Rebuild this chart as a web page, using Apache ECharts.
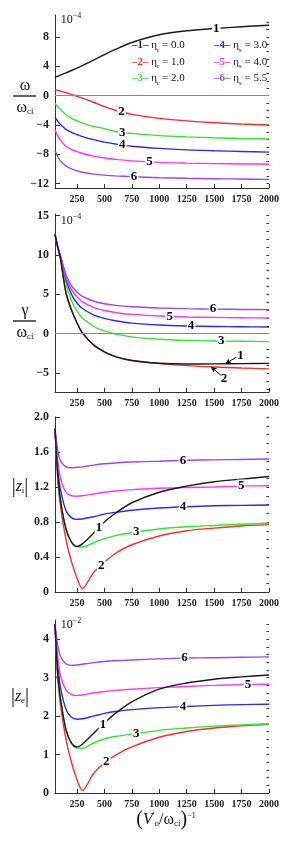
<!DOCTYPE html>
<html><head><meta charset="utf-8">
<script src="https://cdn.jsdelivr.net/npm/echarts@6/dist/echarts.min.js"></script>
<style>html,body{margin:0;padding:0;background:#fff}#c{width:291px;height:842px}</style>
</head><body><div id="c"></div>
<script>
// ---------- data ----------
const xs = [50, 75, 100, 150, 200, 250, 300, 400, 500, 600, 750, 1000, 1250, 1500, 1750, 2000];
const xTicks = [250, 500, 750, 1000, 1250, 1500, 1750, 2000];

const omega1 = [2.5, 2.65, 2.8, 3.1, 3.43, 3.76, 4.1, 4.85, 5.6, 6.3, 7.25, 8.3, 8.85, 9.15, 9.4, 9.6];
const omega2 = [0.78, 0.72, 0.62, 0.4, 0.15, -0.1, -0.35, -0.9, -1.5, -2.0, -2.55, -3.1, -3.45, -3.7, -3.87, -4.0];
const omega3 = [-1.05, -1.5, -1.9, -2.6, -3.1, -3.45, -3.75, -4.2, -4.5, -4.9, -5.15, -5.45, -5.62, -5.75, -5.85, -5.92];
const omega4 = [-2.9, -3.5, -3.95, -4.6, -5.0, -5.3, -5.6, -6.0, -6.35, -6.6, -6.9, -7.2, -7.4, -7.52, -7.62, -7.7];
const omega5 = [-4.7, -5.5, -6.1, -6.9, -7.35, -7.65, -7.9, -8.25, -8.5, -8.7, -8.9, -9.1, -9.2, -9.27, -9.32, -9.35];
const omega6 = [-7.5, -8.3, -8.9, -9.6, -10.0, -10.25, -10.45, -10.7, -10.85, -10.95, -11.05, -11.2, -11.28, -11.33, -11.38, -11.42];

const gamma1 = [12.6, 11.0, 9.5, 5.2, 3.0, 1.4, 0.1, -1.4, -2.3, -2.9, -3.4, -3.75, -3.85, -3.83, -3.8, -3.77];
const gamma2 = [12.6, 11.0, 9.5, 5.2, 3.0, 1.4, 0.1, -1.4, -2.3, -2.9, -3.4, -3.8, -4.05, -4.22, -4.36, -4.46];
const gamma3 = [12.6, 11.0, 9.7, 6.4, 4.2, 2.9, 2.0, 0.95, 0.35, -0.05, -0.4, -0.7, -0.85, -0.92, -0.96, -1.0];
const gamma4 = [12.6, 11.0, 9.8, 6.9, 5.0, 3.9, 3.2, 2.4, 1.95, 1.65, 1.35, 1.1, 0.98, 0.92, 0.88, 0.85];
const gamma5 = [12.6, 11.0, 9.85, 7.2, 5.6, 4.7, 4.05, 3.35, 2.95, 2.7, 2.45, 2.25, 2.13, 2.07, 2.03, 2.0];
const gamma6 = [12.6, 11.05, 9.9, 7.5, 6.1, 5.3, 4.75, 4.15, 3.8, 3.6, 3.42, 3.27, 3.18, 3.12, 3.08, 3.06];

const zi1 = [1.87, 1.35, 1.05, 0.72, 0.57, 0.52, 0.55, 0.67, 0.8, 0.9, 1.02, 1.14, 1.21, 1.26, 1.29, 1.32];
const zi2 = [1.87, 1.3, 0.98, 0.6, 0.35, 0.16, 0.04, 0.22, 0.34, 0.44, 0.54, 0.64, 0.7, 0.73, 0.755, 0.77];
const zi3 = [1.87, 1.35, 1.05, 0.72, 0.57, 0.52, 0.515, 0.56, 0.61, 0.645, 0.68, 0.72, 0.745, 0.76, 0.775, 0.785];
const zi4 = [1.87, 1.42, 1.17, 0.93, 0.85, 0.83, 0.835, 0.86, 0.89, 0.91, 0.935, 0.96, 0.975, 0.985, 0.99, 0.995];
const zi5 = [1.87, 1.5, 1.3, 1.14, 1.1, 1.095, 1.1, 1.12, 1.14, 1.155, 1.17, 1.185, 1.195, 1.2, 1.21, 1.215];
const zi6 = [1.87, 1.62, 1.5, 1.43, 1.42, 1.425, 1.43, 1.45, 1.465, 1.475, 1.485, 1.495, 1.505, 1.51, 1.515, 1.52];

const ze1 = [4.39, 3.1, 2.45, 1.65, 1.3, 1.2, 1.27, 1.55, 1.82, 2.07, 2.37, 2.7, 2.86, 2.96, 3.02, 3.07];
const ze2 = [4.39, 3.0, 2.3, 1.4, 0.8, 0.35, 0.07, 0.5, 0.78, 0.98, 1.2, 1.45, 1.6, 1.69, 1.75, 1.79];
const ze3 = [4.39, 3.1, 2.45, 1.65, 1.3, 1.17, 1.16, 1.3, 1.41, 1.47, 1.53, 1.63, 1.69, 1.74, 1.77, 1.8];
const ze4 = [4.39, 3.35, 2.75, 2.18, 1.97, 1.92, 1.93, 2.0, 2.07, 2.12, 2.17, 2.22, 2.25, 2.28, 2.3, 2.31];
const ze5 = [4.39, 3.55, 3.05, 2.68, 2.56, 2.54, 2.55, 2.6, 2.64, 2.67, 2.7, 2.74, 2.77, 2.8, 2.82, 2.83];
const ze6 = [4.39, 3.85, 3.55, 3.36, 3.32, 3.33, 3.35, 3.39, 3.42, 3.44, 3.46, 3.49, 3.51, 3.52, 3.53, 3.54];

const omegaTicks = [-12, -8, -4, 0, 4, 8];
const gammaTicks = [-5, 0, 5, 10, 15];
const ziTicks = [0, 0.4, 0.8, 1.2, 1.6, 2.0];
const zeTicks = [0, 1, 2, 3, 4];

const curveNames = ['1', '2', '3', '4', '5', '6'];
const etaSubs = ['r', 'r', 'r', 's', 's', 's'];
const etaVals = ['0.0', '1.0', '2.0', '3.0', '4.0', '5.5'];

// ---------- build ----------
const FONT = 'Liberation Serif';
const colors = ['#1a1a1a', '#ff2a2a', '#2ee82e', '#2a2aff', '#ff33ff', '#9944ff'];
const legendNames = curveNames.map((c, i) => 'η' + etaSubs[i] + ' = ' + etaVals[i]);

function interp(ys, x) {
  for (let k = 0; k < xs.length - 1; k++) {
    if (x >= xs[k] && x <= xs[k + 1]) {
      const t = (x - xs[k]) / (xs[k + 1] - xs[k]);
      return ys[k] + t * (ys[k + 1] - ys[k]);
    }
  }
  return ys[ys.length - 1];
}
function range(a, b, s) { const r = []; for (let v = a; v <= b + 1e-9; v += s) r.push(+v.toFixed(4)); return r; }

const panels = [
  { top: 15, height: 173, min: -12.6, max: 11, ticks: omegaTicks, minor: range(-12, 10, 1), data: [omega1, omega2, omega3, omega4, omega5, omega6], labelX: [1520, 655, 663, 663, 912, 770], zero: true, dec: 0 },
  { top: 214, height: 178, min: -7.4, max: 15.2, ticks: gammaTicks, minor: range(-7, 15, 1), data: [gamma1, gamma2, gamma3, gamma4, gamma5, gamma6], labelX: [null, null, 1565, 1290, 1095, 1490], zero: true, dec: 0 },
  { top: 417, height: 175, min: 0, max: 2.0, ticks: ziTicks, minor: range(0, 2, 0.1), data: [zi1, zi2, zi3, zi4, zi5, zi6], labelX: [450, 472, 790, 1216, 1748, 1216], zero: false, dec: 1 },
  { top: 620, height: 173, min: 0, max: 4.5, ticks: zeTicks, minor: range(0, 4.4, 0.2), data: [ze1, ze2, ze3, ze4, ze5, ze6], labelX: [487, 517, 790, 1216, 1808, 1231], zero: false, dec: 0 }
];

const grid = [], xAxis = [], yAxis = [], series = [];
const labelStyle = { show: true, color: '#000', fontFamily: FONT, fontSize: 13, fontWeight: 'bold', backgroundColor: '#fff', padding: [0, 1], position: 'inside' };

panels.forEach((p, pi) => {
  grid.push({ left: 55, width: 214, top: p.top, height: p.height });
  xAxis.push({
    type: 'value', gridIndex: pi, min: 50, max: 2000,
    axisLine: { onZero: false, lineStyle: { color: '#333', width: 1 } },
    axisTick: { inside: true, length: 4, customValues: xTicks, lineStyle: { color: '#333' } },
    axisLabel: { customValues: xTicks, fontFamily: FONT, fontSize: 10, color: '#222', margin: 6, fontWeight: 'bold', formatter: v => String(v) },
    splitLine: { show: false }
  });
  yAxis.push({
    type: 'value', gridIndex: pi, min: p.min, max: p.max,
    axisLine: { show: true, onZero: false, lineStyle: { color: '#333', width: 1 } },
    axisTick: { inside: true, length: 5, customValues: p.ticks, lineStyle: { color: '#333' } },
    axisLabel: { customValues: p.ticks, fontFamily: FONT, fontSize: 12, fontWeight: 'bold', color: '#222', margin: 6,
      formatter: v => v === 0 ? '0' : (v < 0 ? '−' : '') + Math.abs(v).toFixed(p.dec) },
    splitLine: { show: false }
  });
  yAxis.push({
    type: 'value', gridIndex: pi, min: p.min, max: p.max,
    axisLine: { show: false, onZero: false },
    axisTick: { inside: true, length: 2.5, customValues: p.minor, lineStyle: { color: '#333' } },
    axisLabel: { show: false }, splitLine: { show: false }
  });
  if (p.zero) {
    series.push({ type: 'line', xAxisIndex: pi, yAxisIndex: pi * 2, data: [], silent: true, animation: false, z: 1,
      markLine: { silent: true, animation: false, symbol: 'none', label: { show: false },
        lineStyle: { color: '#888', width: 1, type: 'solid' }, data: [{ yAxis: 0 }] } });
  }
  p.data.forEach((ys, i) => {
    const s = {
      type: 'line', name: legendNames[i], xAxisIndex: pi, yAxisIndex: pi * 2,
      data: xs.map((x, k) => [x, ys[k]]),
      smooth: 0.3, showSymbol: false, symbol: 'none',
      lineStyle: { color: colors[i], width: 1.4 }, itemStyle: { color: colors[i] },
      z: i === 0 ? 4 : 3, animation: false, silent: true
    };
    if (p.labelX[i] != null) {
      s.markPoint = { symbol: 'circle', symbolSize: 0, z: 10, animation: false, silent: true,
        itemStyle: { color: 'rgba(0,0,0,0)' },
        data: [{ coord: [p.labelX[i], interp(ys, p.labelX[i])], label: Object.assign({}, labelStyle, { formatter: curveNames[i] }) }] };
    }
    if (pi === 1 && (i === 0 || i === 1)) {
      const from = i === 0 ? [1600, interp(ys, 1600)] : [1470, interp(ys, 1470)];
      const to = i === 0 ? [1700, -3.0] : [1560, -5.25];
      const lab = i === 0 ? [1740, -2.75] : [1590, -5.75];
      s.markLine = { silent: true, animation: false, symbol: ['arrow', 'none'], symbolSize: [4, 6],
        lineStyle: { color: '#000', width: 1, type: 'solid' }, label: { show: false },
        data: [[{ coord: from }, { coord: to }]] };
      s.markPoint = { symbol: 'circle', symbolSize: 0, z: 10, animation: false, silent: true,
        itemStyle: { color: 'rgba(0,0,0,0)' },
        data: [{ coord: lab, label: Object.assign({}, labelStyle, { formatter: curveNames[i], backgroundColor: 'transparent' }) }] };
    }
    series.push(s);
  });
});

const rich = { t: { fontFamily: FONT, fontSize: 11, color: '#111', lineHeight: 16 }, s: { fontFamily: FONT, fontSize: 7, color: '#111', lineHeight: 16, verticalAlign: 'bottom', padding: [6, 0, 0, 0] } };
colors.forEach((c, i) => { rich['c' + i] = { fontFamily: FONT, fontSize: 11, fontWeight: 'bold', color: c, lineHeight: 16 }; });
const legendFmt = name => { const i = legendNames.indexOf(name); return '{c' + i + '|–' + curveNames[i] + '–}{t| η}{s|' + etaSubs[i] + '}{t| = ' + etaVals[i] + '}'; };
const legendBase = { orient: 'vertical', icon: 'none', itemWidth: 0, itemHeight: 10, itemGap: 3, padding: 0, selectedMode: false, formatter: legendFmt, textStyle: { rich } };

const T = (x, y, text, richDef) => ({ type: 'text', x, y, silent: true, style: { text, rich: richDef, align: 'center', verticalAlign: 'middle', fill: '#111' } });
const sym = { a: { fontFamily: FONT, fontSize: 16, fill: '#111' }, b: { fontFamily: FONT, fontSize: 9, fill: '#111', padding: [7, 0, 0, 0] }, i: { fontFamily: FONT, fontSize: 16, fontStyle: 'italic', fill: '#111' }, bar: { fontFamily: FONT, fontSize: 20, fill: '#111' }, sup: { fontFamily: FONT, fontSize: 8, fill: '#111', padding: [0, 0, 8, 0] }, ten: { fontFamily: FONT, fontSize: 12, fill: '#111' } };

const graphic = [
  T(25, 86, '{a|ω}', sym), { type: 'line', silent: true, shape: { x1: 13, y1: 96, x2: 36, y2: 96 }, style: { stroke: '#222', lineWidth: 1.4 } }, T(25, 108, '{a|ω}{b|ci}', sym),
  T(25, 311, '{a|γ}', sym), { type: 'line', silent: true, shape: { x1: 13, y1: 321, x2: 36, y2: 321 }, style: { stroke: '#222', lineWidth: 1.4 } }, T(25, 333, '{a|ω}{b|ci}', sym),
  T(20, 487, '{bar||}{i|z}{b|i}{bar||}', sym),
  T(20, 697, '{bar||}{i|z}{b|e}{bar||}', sym),
  T(71, 20, '{ten|10}{sup|−4}', sym), T(71, 221, '{ten|10}{sup|−4}', sym), T(71, 625, '{ten|10}{sup|−2}', sym),
  T(166, 820, '{bar|(}{i|V}{sup|′}{b|o}{a|/ω}{b|ci}{bar|)}{sup|−1}', sym)
];

const chart = echarts.init(document.getElementById('c'));
chart.setOption({
  animation: false,
  grid, xAxis, yAxis, series, graphic,
  legend: [
    Object.assign({}, legendBase, { left: 127, top: 40, data: legendNames.slice(0, 3) }),
    Object.assign({}, legendBase, { left: 209, top: 40, data: legendNames.slice(3) })
  ]
});
</script></body></html>
